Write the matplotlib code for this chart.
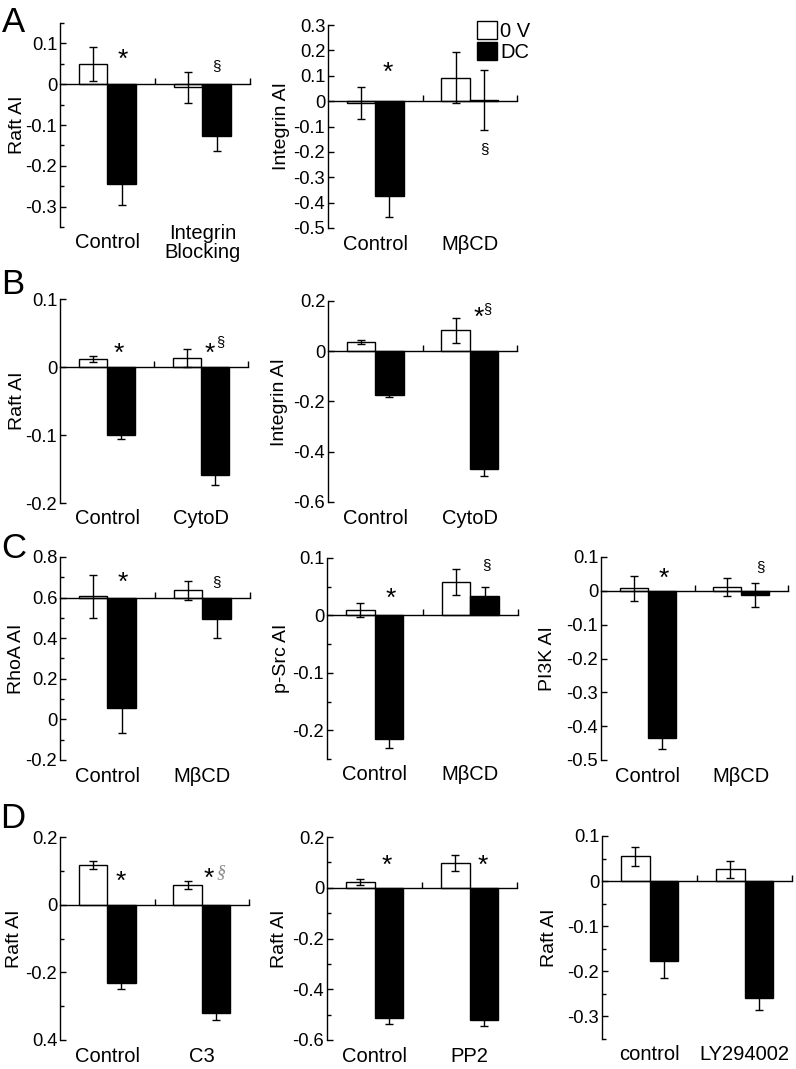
import numpy as np
import matplotlib
matplotlib.use('Agg')
import matplotlib.pyplot as plt
from matplotlib.patches import Patch

plt.rcParams['font.family'] = ['Liberation Sans', 'DejaVu Sans']
plt.rcParams['axes.unicode_minus'] = False

# ---- data ----
# A left
groups_a1 = ['Control', 'Integrin\nBlocking']
v0_a1, e0_a1 = [0.05, -0.008], [0.042, 0.037]
dc_a1, edc_a1 = [-0.245, -0.128], [0.05, 0.035]
# A right
groups_a2 = ['Control', 'M\u03b2CD']
v0_a2, e0_a2 = [-0.007, 0.093], [0.063, 0.1]
dc_a2, edc_a2 = [-0.372, 0.005], [0.083, 0.118]
# B left
groups_b1 = ['Control', 'CytoD']
v0_b1, e0_b1 = [0.012, 0.013], [0.004, 0.013]
dc_b1, edc_b1 = [-0.1, -0.159], [0.006, 0.015]
# B right
groups_b2 = ['Control', 'CytoD']
v0_b2, e0_b2 = [0.037, 0.083], [0.007, 0.05]
dc_b2, edc_b2 = [-0.176, -0.468], [0.008, 0.028]
# C left (baseline 0.6)
groups_c1 = ['Control', 'M\u03b2CD']
v0_c1, e0_c1 = [0.606, 0.635], [0.107, 0.045]
dc_c1, edc_c1 = [0.057, 0.493], [0.125, 0.09]
# C middle
groups_c2 = ['Control', 'M\u03b2CD']
v0_c2, e0_c2 = [0.01, 0.058], [0.012, 0.022]
dc_c2, edc_c2 = [-0.216, 0.034], [0.014, 0.015]
# C right
groups_c3 = ['Control', 'M\u03b2CD']
v0_c3, e0_c3 = [0.007, 0.011], [0.037, 0.027]
dc_c3, edc_c3 = [-0.436, -0.013], [0.032, 0.035]
# D left
groups_d1 = ['Control', 'C3']
v0_d1, e0_d1 = [0.117, 0.057], [0.013, 0.012]
dc_d1, edc_d1 = [-0.231, -0.321], [0.018, 0.02]
# D middle
groups_d2 = ['Control', 'PP2']
v0_d2, e0_d2 = [0.023, 0.098], [0.013, 0.032]
dc_d2, edc_d2 = [-0.513, -0.522], [0.024, 0.022]
# D right
groups_d3 = ['control', 'LY294002']
v0_d3, e0_d3 = [0.055, 0.026], [0.021, 0.018]
dc_d3, edc_d3 = [-0.177, -0.26], [0.038, 0.025]

# y tick values / labels
yt_a1 = [-0.3, -0.2, -0.1, 0, 0.1]
yt_a2 = [-0.5, -0.4, -0.3, -0.2, -0.1, 0, 0.1, 0.2, 0.3]
yt_b1 = [-0.2, -0.1, 0, 0.1]
yt_b2 = [-0.6, -0.4, -0.2, 0, 0.2]
yt_c1 = [-0.2, 0, 0.2, 0.4, 0.6, 0.8]
yt_c2 = [-0.2, -0.1, 0, 0.1]
yt_c3 = [-0.5, -0.4, -0.3, -0.2, -0.1, 0, 0.1]
yt_d1 = [-0.4, -0.2, 0, 0.2]
ytl_d1 = ['0.4', '-0.2', '0', '0.2']   # the original drops the minus on the bottom tick
yt_d2 = [-0.6, -0.4, -0.2, 0, 0.2]
yt_d3 = [-0.3, -0.2, -0.1, 0, 0.1]

# significance marks: (x, y, text)
marks_a1 = [(1.16, 0.075, '*'), (2.15, 0.045, '\u00a7')]
marks_a2 = [(1.13, 0.137, '*'), (2.16, -0.19, '\u00a7')]
marks_b1 = [(1.13, 0.028, '*'), (2.09, 0.028, '*'), (2.2, 0.036, '\u00a7s')]
marks_b2 = [(2.09, 0.158, '*'), (2.19, 0.17, '\u00a7s')]
marks_c1 = [(1.16, 0.7, '*'), (2.15, 0.675, '\u00a7')]
marks_c2 = [(1.17, 0.04, '*'), (2.17, 0.087, '\u00a7')]
marks_c3 = [(1.17, 0.053, '*'), (2.21, 0.07, '\u00a7')]
marks_d1 = [(1.14, 0.086, '*'), (2.07, 0.095, '*'), (2.2, 0.095, '\u00a7g')]
marks_d2 = [(1.13, 0.11, '*'), (2.14, 0.11, '*')]

W, H = 796, 1069
fig = plt.figure(figsize=(W / 100, H / 100), dpi=100)


def px_axes(x0, x1, y0, y1):
    return fig.add_axes([x0 / W, 1 - y1 / H, (x1 - x0) / W, (y1 - y0) / H])


def draw_panel(ax, groups, v0, e0, vdc, edc, yticks, ylabel, label_px,
               base=0.0, ylim=None, minor=None, yticklabels=None, marks=()):
    x = np.arange(1, len(groups) + 1)
    w = 0.3
    v0 = np.array(v0)
    vdc = np.array(vdc)
    ax.bar(x - w / 2, v0 - base, w, bottom=base, color='white',
           edgecolor='black', linewidth=1, zorder=2)
    ax.bar(x + w / 2, vdc - base, w, bottom=base, color='black',
           edgecolor='black', linewidth=1, zorder=2)
    ax.errorbar(x - w / 2, v0, yerr=e0, fmt='none', ecolor='black',
                elinewidth=1, capsize=3, capthick=1, zorder=3)
    ax.errorbar(x + w / 2, vdc, yerr=edc, fmt='none', ecolor='black',
                elinewidth=1, capsize=3, capthick=1, zorder=3)

    ax.set_xlim(0.5, 2.5)
    ax.set_ylim(ylim if ylim else (yticks[0], yticks[-1]))
    for s in ('top', 'right'):
        ax.spines[s].set_visible(False)
    ax.spines['bottom'].set_position(('data', base))
    ax.spines['bottom'].set_linewidth(1)
    ax.spines['left'].set_linewidth(1)
    ax.set_xticks([1.5, 2.5])
    ax.set_xticklabels([])
    ax.tick_params(axis='x', direction='in', length=4, width=1)

    ax.set_yticks(yticks)
    if yticklabels is None:
        yticklabels = ['%g' % t for t in yticks]
    ax.set_yticklabels(yticklabels)
    ax.tick_params(axis='y', direction='in', length=4, width=1,
                   labelsize=13.2, pad=2)
    if minor is not None:
        ax.set_yticks(minor, minor=True)
        ax.tick_params(axis='y', which='minor', direction='in', length=3, width=1)

    ax.set_ylabel(ylabel, fontsize=14, va='center')
    bb = ax.get_position()
    ax.yaxis.set_label_coords((label_px / W - bb.x0) / bb.width, 0.5)

    for xi, g in zip(x, groups):
        ax.annotate(g, xy=(xi, 0), xycoords=('data', 'axes fraction'),
                    xytext=(0, -16), textcoords='offset pixels',
                    ha='center', va='center', fontsize=14.5, linespacing=1.0)

    for mx, my, t in marks:
        if t == '*':
            # asterisk glyph sits high in its box, pull it down a bit
            ax.annotate('*', xy=(mx, my), xytext=(0, -6), textcoords='offset pixels',
                        ha='center', va='center', fontsize=19)
        elif t == '\u00a7s':
            ax.text(mx, my, '\u00a7', ha='center', va='center', fontsize=10.5)
        elif t == '\u00a7g':
            ax.text(mx, my, '\u00a7', ha='center', va='center', fontsize=13,
                    color='#888888', family='Liberation Serif', style='italic')
        else:
            ax.text(mx, my, t, ha='center', va='center', fontsize=11)


# ---- row A ----
ax = px_axes(60, 250, 23, 227)
draw_panel(ax, groups_a1, v0_a1, e0_a1, dc_a1, edc_a1, yt_a1, 'Raft AI', 17,
           ylim=(-0.35, 0.15), minor=np.arange(-0.35, 0.151, 0.05), marks=marks_a1)
ax = px_axes(328, 517, 25, 228)
draw_panel(ax, groups_a2, v0_a2, e0_a2, dc_a2, edc_a2, yt_a2, 'Integrin AI', 282,
           marks=marks_a2)
ax.legend(handles=[Patch(facecolor='white', edgecolor='black'),
                   Patch(facecolor='black', edgecolor='black')],
          labels=['0 V', 'DC'], loc='upper right', bbox_to_anchor=(1.07, 1.02),
          frameon=False, handlelength=1.0, handleheight=1.0, handletextpad=0.15,
          labelspacing=0.05, fontsize=14.5, borderaxespad=0, borderpad=0)

# ---- row B ----
ax = px_axes(60, 248, 299, 503)
draw_panel(ax, groups_b1, v0_b1, e0_b1, dc_b1, edc_b1, yt_b1, 'Raft AI', 17,
           marks=marks_b1)
ax = px_axes(328, 517, 301, 502)
draw_panel(ax, groups_b2, v0_b2, e0_b2, dc_b2, edc_b2, yt_b2, 'Integrin AI', 280,
           marks=marks_b2)

# ---- row C ----
ax = px_axes(60, 250, 557, 760)
draw_panel(ax, groups_c1, v0_c1, e0_c1, dc_c1, edc_c1, yt_c1, 'RhoA AI', 16,
           base=0.6, minor=np.arange(-0.2, 0.81, 0.1), marks=marks_c1)
ax = px_axes(327, 518, 558, 759)
draw_panel(ax, groups_c2, v0_c2, e0_c2, dc_c2, edc_c2, yt_c2, 'p-Src AI', 281,
           ylim=(-0.25, 0.1), minor=np.arange(-0.25, 0.11, 0.05), marks=marks_c2)
ax = px_axes(601, 788, 557, 760)
draw_panel(ax, groups_c3, v0_c3, e0_c3, dc_c3, edc_c3, yt_c3, 'PI3K AI', 547,
           marks=marks_c3)

# ---- row D ----
ax = px_axes(60, 249, 837, 1040)
draw_panel(ax, groups_d1, v0_d1, e0_d1, dc_d1, edc_d1, yt_d1, 'Raft AI', 15,
           minor=np.arange(-0.4, 0.21, 0.1), yticklabels=ytl_d1, marks=marks_d1)
ax = px_axes(327, 517, 837, 1040)
draw_panel(ax, groups_d2, v0_d2, e0_d2, dc_d2, edc_d2, yt_d2, 'Raft AI', 279,
           minor=np.arange(-0.6, 0.21, 0.1), marks=marks_d2)
ax = px_axes(602, 792, 836, 1039)
draw_panel(ax, groups_d3, v0_d3, e0_d3, dc_d3, edc_d3, yt_d3, 'Raft AI', 549,
           ylim=(-0.35, 0.1), minor=np.arange(-0.35, 0.11, 0.05))

# panel letters
for letter, (lx, ly) in zip('ABCD', [(13, 22), (13, 284), (14, 549), (13, 818)]):
    fig.text(lx / W, 1 - ly / H, letter, fontsize=25, ha='center', va='center')

fig.savefig('out.png', dpi=100)
